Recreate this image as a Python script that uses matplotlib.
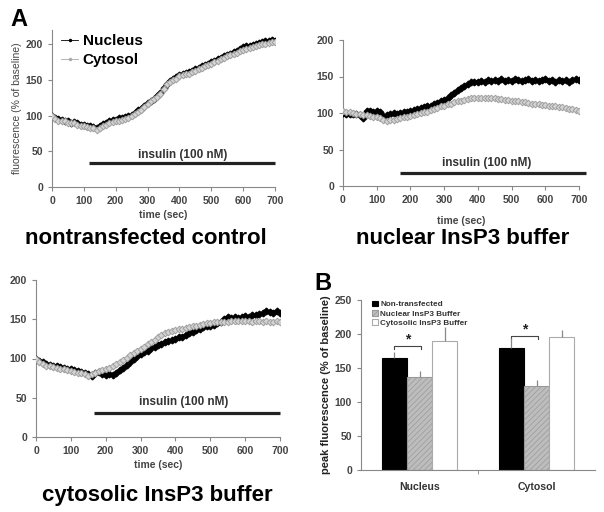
import matplotlib
matplotlib.use("Agg")
import matplotlib.pyplot as plt
import numpy as np

plt.rcParams['font.family'] = ['Liberation Sans', 'DejaVu Sans']
plt.rcParams['font.weight'] = 'bold'

time_sec = list(range(0, 701, 10))

ctrl_nucleus = [100, 97, 95, 94, 92, 92, 90, 91, 89, 87,
                87, 86, 85, 84, 82, 85, 88, 90, 93, 94,
                94, 96, 96, 98, 99, 101, 104, 108, 110, 114,
                118, 121, 124, 128, 132, 139, 145, 148, 151, 154,
                157, 158, 160, 161, 163, 165, 167, 169, 171, 173,
                175, 177, 179, 181, 183, 185, 187, 189, 191, 194,
                196, 197, 198, 199, 201, 202, 203, 205, 205, 206,
                205]
ctrl_cytosol = [99, 95, 93, 92, 92, 90, 89, 89, 87, 86,
                85, 84, 83, 82, 80, 82, 85, 87, 89, 91,
                92, 93, 94, 95, 97, 99, 102, 105, 108, 112,
                116, 120, 123, 126, 131, 138, 144, 147, 150, 152,
                155, 157, 158, 159, 161, 163, 165, 167, 169, 171,
                173, 175, 177, 179, 181, 183, 185, 186, 188, 190,
                192, 194, 195, 196, 197, 199, 200, 201, 202, 203,
                203]

nucbuf_nucleus = [100, 99, 98, 99, 98, 97, 93, 103, 103, 102,
                  103, 101, 96, 97, 99, 100, 99, 100, 101, 101,
                  103, 104, 106, 107, 108, 109, 110, 112, 114, 116,
                  118, 121, 124, 127, 131, 134, 137, 140, 142, 143,
                  143, 144, 143, 145, 144, 145, 144, 146, 144, 145,
                  144, 146, 145, 144, 145, 146, 144, 145, 144, 145,
                  146, 144, 145, 143, 145, 144, 145, 143, 145, 146,
                  145]
nucbuf_cytosol = [103, 102, 101, 100, 99, 98, 97, 97, 96, 95,
                  95, 93, 90, 89, 90, 91, 92, 93, 94, 95,
                  96, 97, 98, 100, 101, 102, 104, 105, 107, 109,
                  110, 112, 113, 115, 116, 117, 118, 119, 120, 120,
                  120, 121, 120, 120, 121, 120, 119, 119, 118, 118,
                  117, 117, 116, 115, 115, 114, 113, 113, 112, 111,
                  111, 110, 110, 109, 108, 108, 107, 106, 105, 104,
                  103]

cytbuf_nucleus = [100, 97, 95, 93, 92, 91, 90, 89, 88, 87,
                  86, 85, 84, 83, 82, 80, 78, 81, 83, 80,
                  79, 80, 79, 82, 85, 88, 92, 96, 100, 103,
                  106, 108, 110, 113, 115, 117, 119, 121, 122, 124,
                  125, 127, 128, 130, 132, 134, 136, 138, 140, 141,
                  142, 143, 145, 146, 150, 153, 152, 153, 152, 153,
                  154, 153, 155, 156, 157, 158, 160, 159, 158, 160,
                  158]
cytbuf_cytosol = [100, 96, 93, 91, 90, 89, 88, 87, 86, 85,
                  84, 83, 82, 81, 80, 78, 80, 82, 84, 85,
                  86, 88, 90, 93, 95, 98, 101, 104, 107, 110,
                  112, 115, 118, 121, 124, 127, 130, 132, 134, 135,
                  136, 137, 138, 139, 140, 141, 142, 143, 144, 145,
                  145, 146, 146, 147, 147, 147, 148, 148, 148, 148,
                  148, 148, 147, 148, 148, 147, 148, 147, 147, 148,
                  147]

bar_categories = ['Nucleus', 'Cytosol']
bar_series = ['Non-transfected', 'Nuclear InsP3 Buffer', 'Cytosolic InsP3 Buffer']
bar_values = [[165, 180], [137, 124], [190, 195]]
bar_errors = [[8, 14], [8, 8], [21, 11]]

W, H = 604, 512
fig = plt.figure(figsize=(W / 100, H / 100), dpi=100)

def ax_at(l, t, r, b):
    return fig.add_axes([l / W, 1 - b / H, (r - l) / W, (b - t) / H])

tick_color = '#444444'
spine_color = '#888888'

def style(ax):
    for s in ['top', 'right']:
        ax.spines[s].set_visible(False)
    for s in ['left', 'bottom']:
        ax.spines[s].set_color(spine_color)
        ax.spines[s].set_linewidth(0.8)
    ax.tick_params(axis='both', colors=spine_color, labelcolor=tick_color,
                   labelsize=7.5, length=3, width=0.8, direction='out')
    for lab in ax.get_xticklabels() + ax.get_yticklabels():
        lab.set_fontweight('bold')

def trace(ax, nuc, cyt, ymax, ins_start, ins_end, ins_y, txt_x, txt_y, legend=False):
    ax.plot(time_sec, nuc, color='black', marker='D', markersize=3.4, lw=1.2,
            label='Nucleus', zorder=3)
    ax.plot(time_sec, cyt, color='#9a9a9a', marker='D', markersize=3.4, lw=1.2,
            mfc='#d4d4d4', mec='#a0a0a0', mew=0.7, label='Cytosol', zorder=4)
    ax.set_xlim(0, 700)
    ax.set_ylim(0, ymax)
    ax.set_xticks(range(0, 701, 100))
    ax.set_yticks(range(0, 201, 50))
    ax.plot([ins_start, ins_end], [ins_y, ins_y], color='#222222', lw=2.3,
            clip_on=False, solid_capstyle='butt')
    ax.text(txt_x, txt_y, 'insulin (100 nM)', ha='center', va='center',
            fontsize=8.5, fontweight='bold', color='#333333')
    style(ax)
    if legend:
        handles = [plt.Line2D([], [], color='black', marker='.', markersize=3, lw=0.6),
                   plt.Line2D([], [], color='#aaaaaa', marker='.', markersize=3, lw=0.6)]
        ax.legend(handles, ['Nucleus', 'Cytosol'], loc='upper left',
                  bbox_to_anchor=(0.0, 1.03), frameon=False,
                  handlelength=1.1, handletextpad=0.3,
                  labelspacing=0.3, borderaxespad=0.2,
                  prop={'weight': 'bold', 'size': 11})

# Panel 1
ax1 = ax_at(52, 30, 275, 187)
trace(ax1, ctrl_nucleus, ctrl_cytosol, 220, 116, 700, 33, 411, 45, legend=True)
ax1.set_xlabel('time (sec)', fontsize=7.5, fontweight='bold', color=tick_color, labelpad=3)
ax1.set_ylabel('fluorescence (% of baseline)', fontsize=7.5, fontweight='normal',
               color=tick_color, labelpad=3)

# Panel 2
ax2 = ax_at(343, 40, 579, 186)
trace(ax2, nucbuf_nucleus, nucbuf_cytosol, 200, 170, 720, 18, 427, 31.5)
ax2.set_xlabel('time (sec)', fontsize=7.5, fontweight='bold', color=tick_color, labelpad=8)

# Panel 3
ax3 = ax_at(36, 280, 280, 437)
trace(ax3, cytbuf_nucleus, cytbuf_cytosol, 200, 166, 700, 31, 425, 44.6)
ax3.set_xlabel('time (sec)', fontsize=7.5, fontweight='bold', color=tick_color, labelpad=3)

# Panel 4 bar chart
plt.rcParams['hatch.color'] = '#777777'
plt.rcParams['hatch.linewidth'] = 0.5
ax4 = ax_at(361, 300, 595, 470)
x = np.arange(len(bar_categories))
bw = 0.215
styles = [dict(color='black', edgecolor='black'),
          dict(color='#bdbdbd', edgecolor='#999999', hatch='//////'),
          dict(color='white', edgecolor='#aaaaaa')]
for i, (name, vals, errs) in enumerate(zip(bar_series, bar_values, bar_errors)):
    pos = x + (i - 1) * bw
    ax4.bar(pos, vals, bw, label=name, linewidth=0.8, zorder=2, **styles[i])
    ax4.errorbar(pos, vals, yerr=[[0] * len(errs), errs], fmt='none',
                 ecolor='#888888', elinewidth=0.9, capsize=0, zorder=3)
ax4.set_xlim(-0.5, 1.5)
ax4.set_ylim(0, 250)
ax4.set_yticks(range(0, 251, 50))
ax4.set_xticks(x)
ax4.set_xticklabels(bar_categories)
ax4.set_xticks([0.5], minor=True)
style(ax4)
ax4.tick_params(axis='x', which='major', length=0, labelsize=7.6, pad=9, labelcolor='#333333')
ax4.tick_params(axis='x', which='minor', length=3, color=spine_color)
for lab in ax4.get_xticklabels():
    lab.set_fontweight('bold')
ax4.set_ylabel('peak fluorescence (% of baseline)', fontsize=8, fontweight='bold',
               color='#222222', labelpad=3)
leg = ax4.legend(loc='upper left', bbox_to_anchor=(0.03, 1.02), frameon=False,
                 handlelength=0.7, handleheight=0.7, handletextpad=0.3,
                 labelspacing=0.2, borderaxespad=0.1,
                 prop={'weight': 'bold', 'size': 5.9})
for t in leg.get_texts():
    t.set_color('#333333')

# significance brackets
def bracket(ax, x0, x1, y, drop, star_y):
    ax.plot([x0, x0, x1, x1], [y - drop, y, y, y - drop], color='#444444', lw=0.8)
    ax.text((x0 + x1) / 2, star_y, '*', ha='center', va='center', fontsize=10,
            fontweight='bold', color='#222222')

bracket(ax4, x[0] - bw, x[0] + 0.01, 182, 4, 192)
bracket(ax4, x[1] - bw, x[1] + 0.01, 197, 4, 207)

# panel titles and letters
fig.text(146 / W, 1 - 244 / H, 'nontransfected control', ha='center', va='baseline',
         fontsize=16, fontweight='bold')
fig.text(463 / W, 1 - 244 / H, 'nuclear InsP3 buffer', ha='center', va='baseline',
         fontsize=16, fontweight='bold')
fig.text(157 / W, 1 - 501 / H, 'cytosolic InsP3 buffer', ha='center', va='baseline',
         fontsize=16, fontweight='bold')
fig.text(19 / W, 1 - 19 / H, 'A', ha='center', va='center', fontsize=17, fontweight='bold')
fig.text(323 / W, 1 - 283 / H, 'B', ha='center', va='center', fontsize=17, fontweight='bold')

fig.savefig('out.png', dpi=100)
